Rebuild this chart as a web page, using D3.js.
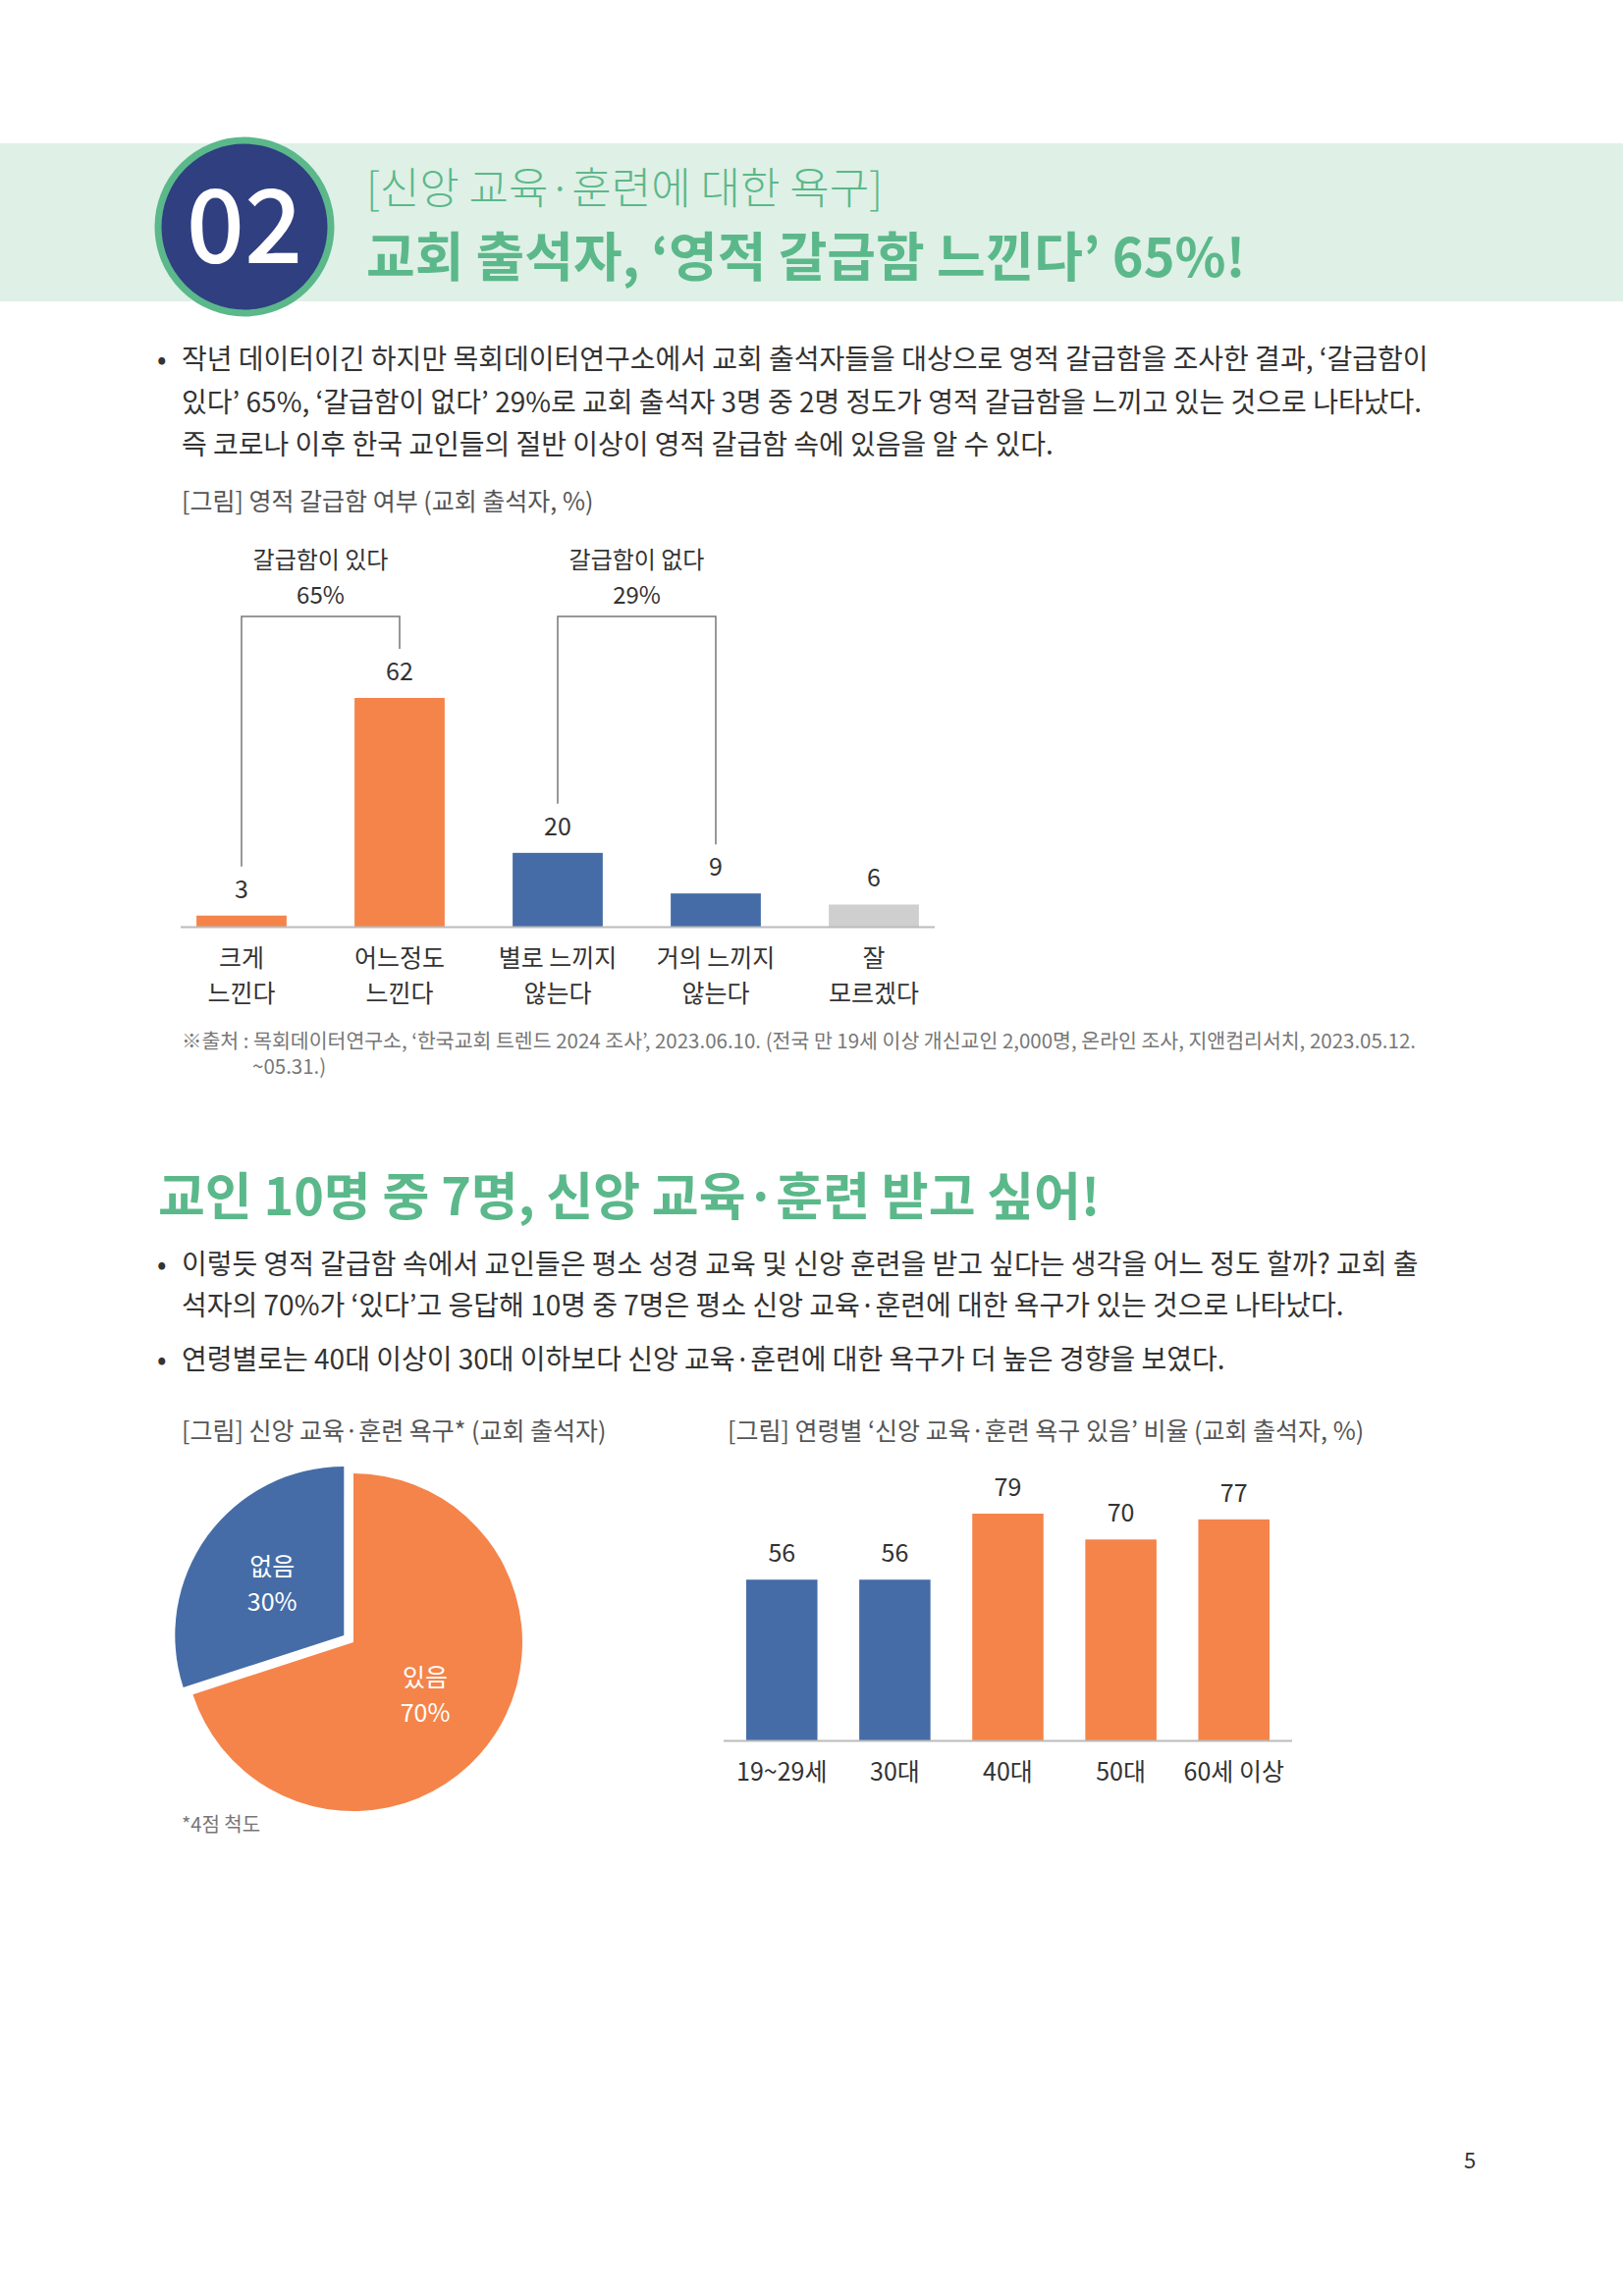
<!DOCTYPE html>
<html><head><meta charset="utf-8">
<script src="https://cdn.jsdelivr.net/npm/d3@7"></script>
<style>body{margin:0;background:#fff}svg{display:block}text{font-family:"Noto Sans CJK KR","Noto Sans",sans-serif}</style>
</head><body>
<script>
const feelCats=[["크게","느낀다"],["어느정도","느낀다"],["별로 느끼지","않는다"],["거의 느끼지","않는다"],["잘","모르겠다"]];
const feelVals=[3,62,20,9,6];
const feelColors=["#f4844a","#f4844a","#456ca6","#456ca6","#d0cfcf"];
const pieLabels=["없음","있음"];
const pieVals=[30,70];
const ageCats=["19~29세","30대","40대","50대","60세 이상"];
const ageVals=[56,56,79,70,77];
const ageColors=["#456ca6","#456ca6","#f4844a","#f4844a","#f4844a"];

const W=1653,H=2339,green="#5bb88a";
const svg=d3.select("body").append("svg").attr("width",W).attr("height",H);
// header
svg.append("rect").attr("x",0).attr("y",146).attr("width",W).attr("height",161).attr("fill","#dff0e6");
svg.append("circle").attr("cx",249).attr("cy",231).attr("r",88).attr("fill","#2f3f80").attr("stroke",green).attr("stroke-width",7);
svg.append("text").attr("x",249).attr("y",268).attr("text-anchor","middle").attr("font-size",104).attr("font-weight",500).attr("fill","#fff").attr("font-family","Roboto").text("02");
svg.append("text").attr("x",373).attr("y",208).attr("font-size",44).attr("font-weight",300).attr("fill",green).text("[신앙 교육·훈련에 대한 욕구]");
svg.append("text").attr("x",373).attr("y",282).attr("font-size",54).attr("font-weight",700).attr("fill",green).text("교회 출석자, ‘영적 갈급함 느낀다’ 65%!");
function para(lines,ys,bulletIdx){
  lines.forEach((l,i)=>{
    if(bulletIdx.includes(i)) svg.append("text").attr("x",160).attr("y",ys[i]).attr("font-size",28).attr("fill","#333").text("•");
    svg.append("text").attr("x",185).attr("y",ys[i]).attr("font-size",28).attr("fill","#333").text(l);
  });
}
para(["작년 데이터이긴 하지만 목회데이터연구소에서 교회 출석자들을 대상으로 영적 갈급함을 조사한 결과, ‘갈급함이",
"있다’ 65%, ‘갈급함이 없다’ 29%로 교회 출석자 3명 중 2명 정도가 영적 갈급함을 느끼고 있는 것으로 나타났다.",
"즉 코로나 이후 한국 교인들의 절반 이상이 영적 갈급함 속에 있음을 알 수 있다."],[376,420,463],[0]);
svg.append("text").attr("x",185).attr("y",520).attr("font-size",25).attr("fill","#555").text("[그림] 영적 갈급함 여부 (교회 출석자, %)");

// chart 1
const x1=d3.scaleBand().domain(d3.range(5)).range([184,952]).paddingInner(0.43).paddingOuter(0.1);
const y1=d3.scaleLinear().domain([0,62]).range([944,711]);
const g1=svg.append("g");
g1.selectAll("rect").data(feelVals).join("rect").attr("x",(d,i)=>x1(i)).attr("width",x1.bandwidth())
 .attr("y",d=>y1(d)).attr("height",d=>944-y1(d)).attr("fill",(d,i)=>feelColors[i]);
g1.selectAll(".v").data(feelVals).join("text").attr("x",(d,i)=>x1(i)+x1.bandwidth()/2).attr("y",d=>y1(d)-18)
 .attr("text-anchor","middle").attr("font-size",25).attr("fill","#333").text(d=>d);
g1.append("line").attr("x1",184).attr("x2",952).attr("y1",944.5).attr("y2",944.5).attr("stroke","#bbb").attr("stroke-width",2);
feelCats.forEach((c,i)=>c.forEach((t,j)=>g1.append("text").attr("x",x1(i)+x1.bandwidth()/2).attr("y",985+j*36)
 .attr("text-anchor","middle").attr("font-size",25).attr("fill","#333").text(t)));
const cx=i=>x1(i)+x1.bandwidth()/2;
[[0,1,"갈급함이 있다","65%"],[2,3,"갈급함이 없다","29%"]].forEach(([a,b,l1,l2])=>{
  const ya=y1(feelVals[a])-50, yb=y1(feelVals[b])-50, top=628;
  g1.append("path").attr("d",`M${cx(a)},${ya}V${top}H${cx(b)}V${yb}`).attr("fill","none").attr("stroke","#777").attr("stroke-width",1.5);
  const m=(cx(a)+cx(b))/2;
  g1.append("text").attr("x",m).attr("y",579).attr("text-anchor","middle").attr("font-size",24).attr("fill","#333").text(l1);
  g1.append("text").attr("x",m).attr("y",615).attr("text-anchor","middle").attr("font-size",24).attr("fill","#333").text(l2);
});
svg.append("text").attr("x",185).attr("y",1068).attr("font-size",20.5).attr("fill","#777").text("※출처 : 목회데이터연구소, ‘한국교회 트렌드 2024 조사’, 2023.06.10. (전국 만 19세 이상 개신교인 2,000명, 온라인 조사, 지앤컴리서치, 2023.05.12.");
svg.append("text").attr("x",257).attr("y",1094).attr("font-size",20.5).attr("fill","#777").text("~05.31.)");

// section 2
svg.append("text").attr("x",161).attr("y",1238).attr("font-size",52).attr("font-weight",700).attr("fill",green).text("교인 10명 중 7명, 신앙 교육·훈련 받고 싶어!");
para(["이렇듯 영적 갈급함 속에서 교인들은 평소 성경 교육 및 신앙 훈련을 받고 싶다는 생각을 어느 정도 할까? 교회 출",
"석자의 70%가 ‘있다’고 응답해 10명 중 7명은 평소 신앙 교육·훈련에 대한 욕구가 있는 것으로 나타났다.",
"연령별로는 40대 이상이 30대 이하보다 신앙 교육·훈련에 대한 욕구가 더 높은 경향을 보였다."],[1298,1340,1395],[0,2]);
svg.append("text").attr("x",185).attr("y",1467).attr("font-size",25).attr("fill","#555").text("[그림] 신앙 교육·훈련 욕구* (교회 출석자)");
svg.append("text").attr("x",741).attr("y",1467).attr("font-size",25).attr("fill","#555").text("[그림] 연령별 ‘신앙 교육·훈련 욕구 있음’ 비율 (교회 출석자, %)");

// pie
const pc=[360,1673], R=172;
const pie=d3.pie().sort(null).startAngle(-2*Math.PI*0.3).endAngle(2*Math.PI*0.7)(pieVals);
const arc=d3.arc().innerRadius(0).outerRadius(R);
const pg=svg.append("g").attr("transform",`translate(${pc})`);
const pieColors=["#456ca6","#f4844a"];
pie.forEach((p,i)=>{
  const mid=(p.startAngle+p.endAngle)/2, off=i===0?12:0;
  const dx=Math.sin(mid)*off, dy=-Math.cos(mid)*off;
  const g=pg.append("g").attr("transform",`translate(${dx},${dy})`);
  g.append("path").attr("d",arc(p)).attr("fill",pieColors[i]);
  const c=d3.arc().innerRadius(0).outerRadius(R*1.05).centroid(p);
  g.append("text").attr("x",c[0]).attr("y",c[1]-8).attr("text-anchor","middle").attr("font-size",25).attr("fill","#fff").text(pieLabels[i]);
  g.append("text").attr("x",c[0]).attr("y",c[1]+28).attr("text-anchor","middle").attr("font-size",25).attr("fill","#fff").text(pieVals[i]+"%");
});
svg.append("text").attr("x",185).attr("y",1866).attr("font-size",20).attr("fill","#777").text("*4점 척도");

// chart 3
const x3=d3.scaleBand().domain(ageCats).range([737,1316]).paddingInner(0.37).paddingOuter(0.2);
const y3=d3.scaleLinear().domain([0,79]).range([1773,1542]);
const g3=svg.append("g");
g3.selectAll("rect").data(ageVals).join("rect").attr("x",(d,i)=>x3(ageCats[i])).attr("width",x3.bandwidth())
 .attr("y",d=>y3(d)).attr("height",d=>1773-y3(d)).attr("fill",(d,i)=>ageColors[i]);
g3.selectAll(".v").data(ageVals).join("text").attr("x",(d,i)=>x3(ageCats[i])+x3.bandwidth()/2).attr("y",d=>y3(d)-18)
 .attr("text-anchor","middle").attr("font-size",25).attr("fill","#333").text(d=>d);
g3.append("line").attr("x1",737).attr("x2",1316).attr("y1",1773.5).attr("y2",1773.5).attr("stroke","#bbb").attr("stroke-width",2);
ageCats.forEach(c=>g3.append("text").attr("x",x3(c)+x3.bandwidth()/2).attr("y",1814).attr("text-anchor","middle").attr("font-size",25).attr("fill","#333").text(c));

svg.append("text").attr("x",1497).attr("y",2209).attr("text-anchor","middle").attr("font-size",22).attr("fill","#333").text("5");
</script>
</body></html>
